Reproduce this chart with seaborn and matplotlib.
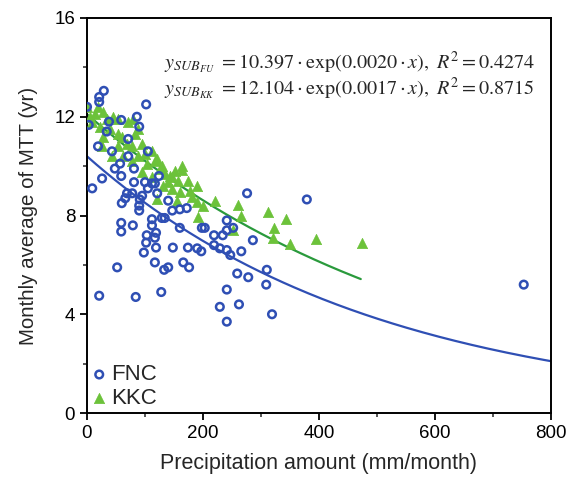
import numpy as np
import pandas as pd
import matplotlib
matplotlib.use("Agg")
import matplotlib.pyplot as plt
from matplotlib.ticker import MultipleLocator
import seaborn as sns

# ---- data ----
fnc_x = [29, 21, 21, 102, 0, 3, 38, 59, 86, 90, 34, 71, 19, 43, 105, 71, 57, 48, 81, 59,
         26, 124, 9, 81, 100, 112, 117, 78, 69, 66, 60, 95, 91, 90, 90, 105, 121, 140, 147, 160,
         172, 276, 379, 129, 134, 112, 112, 59, 59, 79, 103, 119, 117, 102, 119, 98, 148, 174, 190, 197,
         160, 198, 203, 219, 234, 241, 241, 252, 286, 219, 229, 241, 247, 266, 117, 166, 176, 52, 140, 133,
         259, 278, 310, 309, 241, 21, 84, 128, 229, 262, 319, 241, 753]
fnc_y = [13.05, 12.8, 12.6, 12.5, 12.4, 11.67, 11.8, 11.87, 12.0, 11.6, 11.4, 11.1, 10.8, 10.6, 10.6, 10.4, 10.1, 9.9, 9.9, 9.6,
         9.5, 9.6, 9.1, 9.35, 9.35, 9.3, 9.3, 8.9, 8.9, 8.7, 8.5, 8.8, 8.65, 8.4, 8.2, 9.1, 8.9, 8.6, 8.2, 8.25,
         8.3, 8.9, 8.65, 7.9, 7.9, 7.85, 7.6, 7.7, 7.35, 7.6, 7.2, 7.3, 7.1, 6.9, 6.7, 6.5, 6.7, 6.7, 6.67, 6.55,
         7.5, 7.5, 7.5, 7.2, 7.2, 7.8, 7.4, 7.5, 7.0, 6.8, 6.67, 6.6, 6.4, 6.55, 6.1, 6.1, 5.9, 5.9, 5.9, 5.8,
         5.65, 5.5, 5.8, 5.2, 5.0, 4.75, 4.7, 4.9, 4.3, 4.4, 4.0, 3.7, 5.2]

kkc_x = [0, 19, 28, 14, 45, 71, 53, 9, 22, 40, 53, 28, 83, 88, 69, 26, 53, 78, 95, 112,
         43, 62, 88, 78, 103, 129, 117, 134, 152, 164, 147, 112, 95, 140, 157, 126, 143, 131, 147, 160,
         178, 181, 200, 121, 155, 190, 252, 221, 260, 266, 312, 343, 322, 321, 350, 395, 474, 191, 190, 174,
         164, 121, 80, 5, 35, 60, 100]
kkc_y = [12.4, 12.4, 12.2, 12.1, 12.0, 11.8, 11.9, 11.8, 11.6, 11.5, 11.3, 11.2, 11.3, 11.5, 10.9, 10.8, 10.8, 10.8, 10.9, 10.6,
         10.4, 10.4, 10.4, 10.2, 10.1, 10.0, 10.2, 9.7, 9.8, 10.0, 9.55, 9.55, 9.75, 9.35, 9.4, 9.9, 9.6, 9.2, 9.07, 8.94,
         8.98, 8.74, 8.37, 8.66, 8.58, 8.54, 7.4, 8.58, 8.41, 7.97, 8.13, 7.85, 7.48, 7.07, 6.83, 7.03, 6.87, 7.93, 9.19, 9.39,
         9.84, 10.3, 11.9, 12.0, 11.9, 11.2, 10.5]

# fit parameters printed on the chart
fnc_a, fnc_b = 10.397, 0.0020
kkc_a, kkc_b = 12.104, 0.0017
fnc_xmax, kkc_xmax = 800, 472

blue = "#2f4fb4"
green = "#6cc23a"
green_line = "#2a9a3c"

sns.set_theme(style="ticks")
plt.rcParams["font.family"] = ["Liberation Sans", "DejaVu Sans"]
plt.rcParams["mathtext.fontset"] = "stix"

fig = plt.figure(figsize=(5.68, 4.82), dpi=100)
ax = fig.add_axes([87/568, 1-413/482, (551-87)/568, (413-18)/482])

df_f = pd.DataFrame({"x": fnc_x, "y": fnc_y})
df_k = pd.DataFrame({"x": kkc_x, "y": kkc_y})

sns.scatterplot(data=df_k, x="x", y="y", ax=ax, marker="^", s=55, color=green,
                edgecolor=green, linewidth=0.5, label="KKC", zorder=3)
sns.scatterplot(data=df_f, x="x", y="y", ax=ax, marker="o", s=30, facecolor="none",
                edgecolor=blue, linewidth=1.8, label="FNC", zorder=4)

xf = np.linspace(0, fnc_xmax, 200)
xk = np.linspace(0, kkc_xmax, 200)
sns.lineplot(x=xf, y=fnc_a*np.exp(-fnc_b*xf), ax=ax, color=blue, linewidth=1.6, zorder=2)
sns.lineplot(x=xk, y=kkc_a*np.exp(-kkc_b*xk), ax=ax, color=green_line, linewidth=1.6, zorder=2)

ax.set_xlim(0, 800)
ax.set_ylim(0, 16)
ax.xaxis.set_major_locator(MultipleLocator(200))
ax.xaxis.set_minor_locator(MultipleLocator(100))
ax.yaxis.set_major_locator(MultipleLocator(4))
ax.yaxis.set_minor_locator(MultipleLocator(2))
ax.tick_params(which="major", direction="out", length=5, width=1.3, labelsize=13.5, colors="black")
ax.tick_params(which="minor", direction="out", length=3, width=1.1)
for sp in ax.spines.values():
    sp.set_visible(True)
    sp.set_linewidth(1.4)
    sp.set_color("black")

ax.set_xlabel("Precipitation amount (mm/month)", fontsize=15.5, labelpad=8)
ax.set_ylabel("Monthly average of MTT (yr)", fontsize=14.8, labelpad=12)

ax.text(0.165, 0.888, r"$y_{SUB_{FU}}\ =10.397\cdot\mathrm{exp}\left(0.0020\cdot x\right),\ R^2=0.4274$",
        transform=ax.transAxes, fontsize=14.5, ha="left", va="center")
ax.text(0.165, 0.822, r"$y_{SUB_{KK}}\ =12.104\cdot\mathrm{exp}\left(0.0017\cdot x\right),\ R^2=0.8715$",
        transform=ax.transAxes, fontsize=14.5, ha="left", va="center")

h, l = ax.get_legend_handles_labels()
order = [l.index("FNC"), l.index("KKC")]
ax.legend([h[i] for i in order], [l[i] for i in order], loc="lower left", frameon=False,
          fontsize=16, handlelength=0.7, handletextpad=0.2, borderaxespad=0.0,
          labelspacing=0.1, borderpad=0.2, bbox_to_anchor=(0.0, 0.0))

fig.savefig("out.png", dpi=100)
